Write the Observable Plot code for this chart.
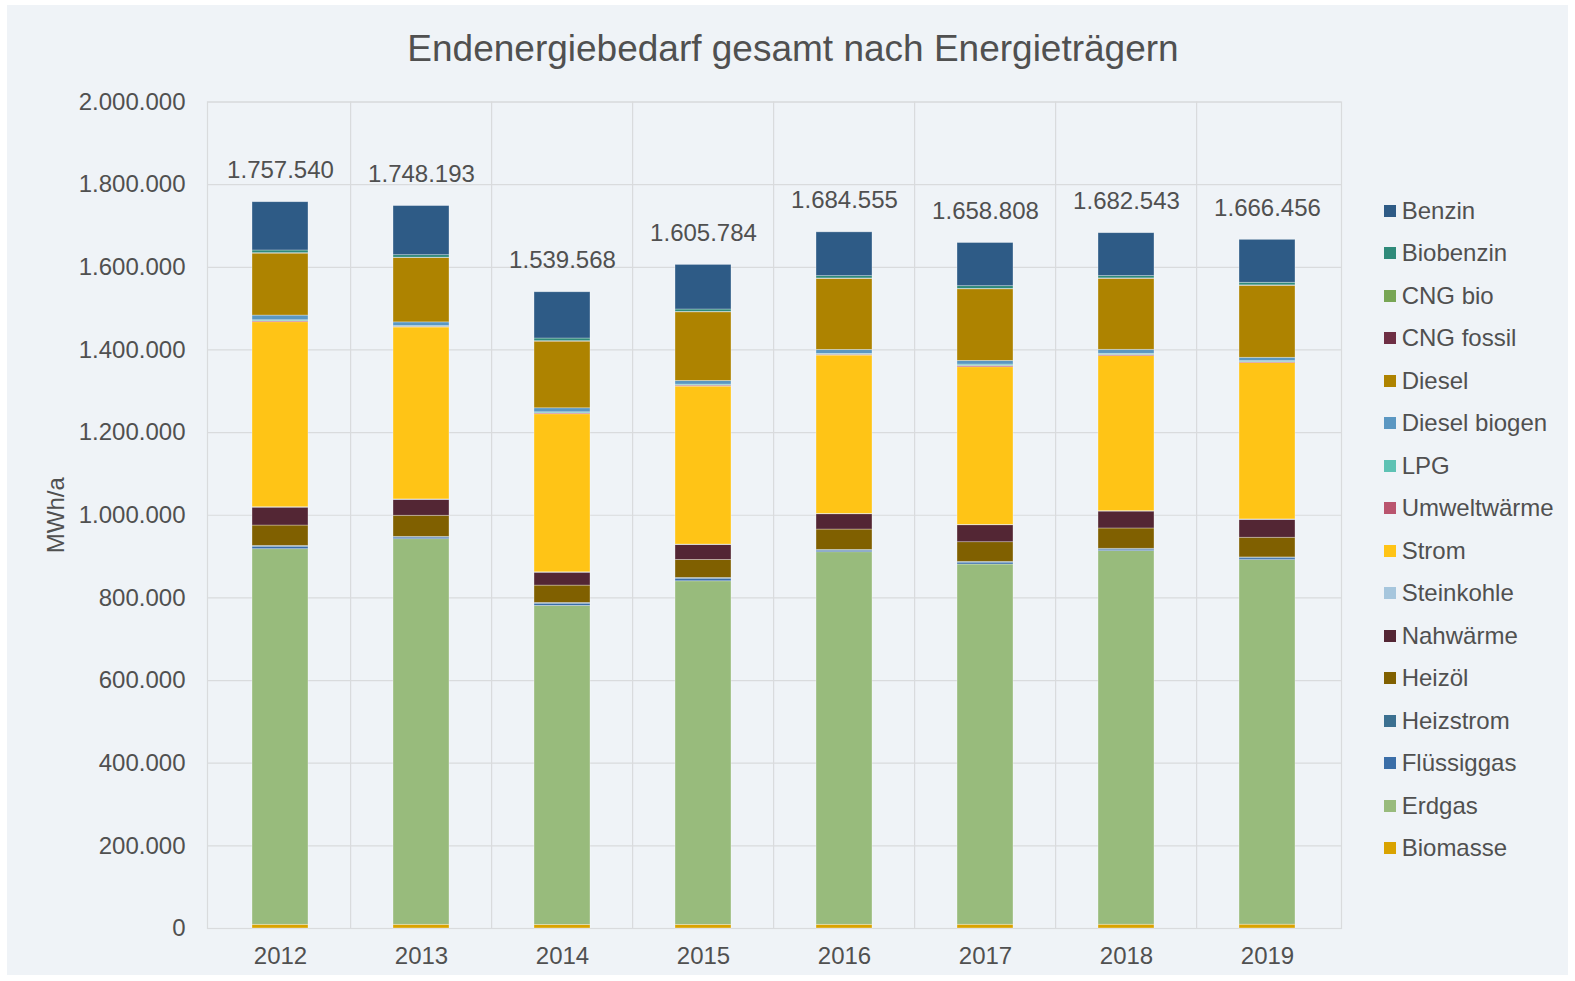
<!DOCTYPE html>
<html>
<head>
<meta charset="utf-8">
<script src="https://cdn.jsdelivr.net/npm/d3@7"></script>
<script src="https://cdn.jsdelivr.net/npm/@observablehq/plot@0.6"></script>
<style>
  html, body { margin: 0; padding: 0; background: #ffffff; width: 1575px; height: 981px; overflow: hidden;
    font-family: "Liberation Sans", Arial, sans-serif; }
  #bg { position: absolute; left: 7px; top: 5px; width: 1561px; height: 970px; background: #eff3f7; }
  #chart { position: absolute; left: 0; top: 0; }
  #title { position: absolute; left: 0; width: 1586px; top: 30px; text-align: center; font-size: 37px;
    line-height: 37px; color: #505050; }
  #legend { position: absolute; left: 1384px; top: 189.5px; }
  .item { height: 42.5px; display: flex; align-items: center; font-size: 24px; color: #505050; white-space: nowrap; }
  .sw { width: 12px; height: 12px; margin-right: 5.7px; flex: none; }
</style>
</head>
<body>
<div id="bg"></div>
<div id="chart"></div>
<div id="title">Endenergiebedarf gesamt nach Energieträgern</div>
<div id="legend"></div>
<script>
// ---- data (MWh/a) ----
const years = ["2012", "2013", "2014", "2015", "2016", "2017", "2018", "2019"];
const totals = [1757540, 1748193, 1539568, 1605784, 1684555, 1658808, 1682543, 1666456];
const yTicks = [0, 200000, 400000, 600000, 800000, 1000000, 1200000, 1400000, 1600000, 1800000, 2000000];

// stacking order, bottom -> top
const categories = ["Biomasse", "Erdgas", "Flüssiggas", "Heizstrom", "Heizöl", "Nahwärme", "Steinkohle", "Strom",
  "Umweltwärme", "LPG", "Diesel biogen", "Diesel", "CNG fossil", "CNG bio", "Biobenzin", "Benzin"];
const colors = ["#d9a300", "#98bb7c", "#3a6ea8", "#3b7091", "#806000", "#532634", "#a6c6dd", "#ffc416",
  "#b9546e", "#5ec2b4", "#5b97c2", "#ae8300", "#6e2f44", "#78a655", "#2f8a7a", "#2e5b86"];

const biomasse     = [9000, 9000, 8800, 8900, 9000, 9100, 9200, 9300];
const erdgas       = [908800, 933000, 771800, 831300, 901500, 871700, 903900, 882100];
const fluessiggas  = [6000, 4000, 5300, 6200, 3800, 4500, 3800, 4500];
const heizstrom    = [2200, 1800, 2000, 2000, 2000, 2000, 2000, 2000];
const heizoel      = [49100, 51000, 41900, 43600, 49100, 47400, 49100, 47700];
const nahwaerme    = [43300, 38500, 31200, 36000, 37000, 41100, 40900, 43300];
const steinkohle   = [1000, 1000, 1000, 1000, 1000, 1000, 1000, 1000];
const strom        = [447600, 416000, 382300, 382300, 383000, 381300, 375000, 378200];
const umweltwaerme = [2400, 1700, 2300, 2400, 2000, 3300, 2900, 2400];
const lpg          = [2400, 1700, 2500, 2400, 2100, 3200, 2900, 2400];
const dieselBiogen = [11400, 9000, 9700, 9000, 9700, 9000, 9700, 8200];
const diesel       = [150000, 155600, 161400, 166000, 171800, 173200, 171800, 174200];
const cngFossil    = [500, 500, 500, 500, 500, 500, 500, 500];
const cngBio       = [500, 500, 500, 500, 500, 500, 500, 500];
const biobenzin    = [6500, 6000, 6500, 5800, 5600, 6500, 5600, 6300];
const benzin       = [116800, 118900, 111900, 107900, 106000, 104500, 103700, 103900];

const series = [biomasse, erdgas, fluessiggas, heizstrom, heizoel, nahwaerme, steinkohle, strom,
  umweltwaerme, lpg, dieselBiogen, diesel, cngFossil, cngBio, biobenzin, benzin];

const table = [];
years.forEach((yr, i) => {
  categories.forEach((c, j) => table.push({year: yr, cat: c, value: series[j][i]}));
});

const fmt = d3.formatLocale({decimal: ",", thousands: ".", grouping: [3], currency: ["", "€"]}).format(",.0f");

const W = 1575, H = 981, mL = 207, mR = 234, mT = 101.5, mB = 53;
const step = (W - mL - mR) / years.length;
const grid = "#d9dbdd";
const ink = "#505050";

const chart = Plot.plot({
  width: W, height: H,
  marginLeft: mL, marginRight: mR, marginTop: mT, marginBottom: mB,
  style: {background: "transparent", fontFamily: "'Liberation Sans', Arial, sans-serif", fontSize: "24px", color: ink, overflow: "visible"},
  x: {domain: years, paddingInner: 0.6, paddingOuter: 0.3, label: null},
  y: {domain: [0, 2000000], label: null},
  color: {domain: categories, range: colors},
  marks: [
    Plot.ruleY(yTicks, {stroke: grid, strokeWidth: 1.2}),
    Plot.ruleX(years.slice(1), {x: d => d, dx: -step / 2, stroke: grid, strokeWidth: 1.2}),
    Plot.frame({stroke: grid, strokeWidth: 1.2}),
    Plot.barY(table, {x: "year", y: "value", fill: "cat", stroke: "#ffffff", strokeOpacity: 0.45, strokeWidth: 0.7}),
    Plot.text(years, {x: d => d, y: (d, i) => totals[i], text: (d, i) => fmt(totals[i]), lineAnchor: "bottom", dy: -24, fill: ink, fontSize: 24}),
    Plot.axisY({ticks: yTicks, tickFormat: fmt, tickSize: 0, tickPadding: 22, label: null, fontSize: 24, fill: ink}),
    Plot.axisX({tickSize: 0, tickPadding: 18, label: null, fontSize: 24, fill: ink}),
    Plot.text(["MWh/a"], {frameAnchor: "left", textAnchor: "middle", rotate: -90, dx: -151, text: d => d, fontSize: 24, fill: ink})
  ]
});
document.getElementById("chart").appendChild(chart);

const legend = document.getElementById("legend");
categories.slice().reverse().forEach(c => {
  const item = document.createElement("div");
  item.className = "item";
  const sw = document.createElement("span");
  sw.className = "sw";
  sw.style.background = colors[categories.indexOf(c)];
  const lab = document.createElement("span");
  lab.textContent = c;
  item.appendChild(sw);
  item.appendChild(lab);
  legend.appendChild(item);
});
</script>
</body>
</html>
